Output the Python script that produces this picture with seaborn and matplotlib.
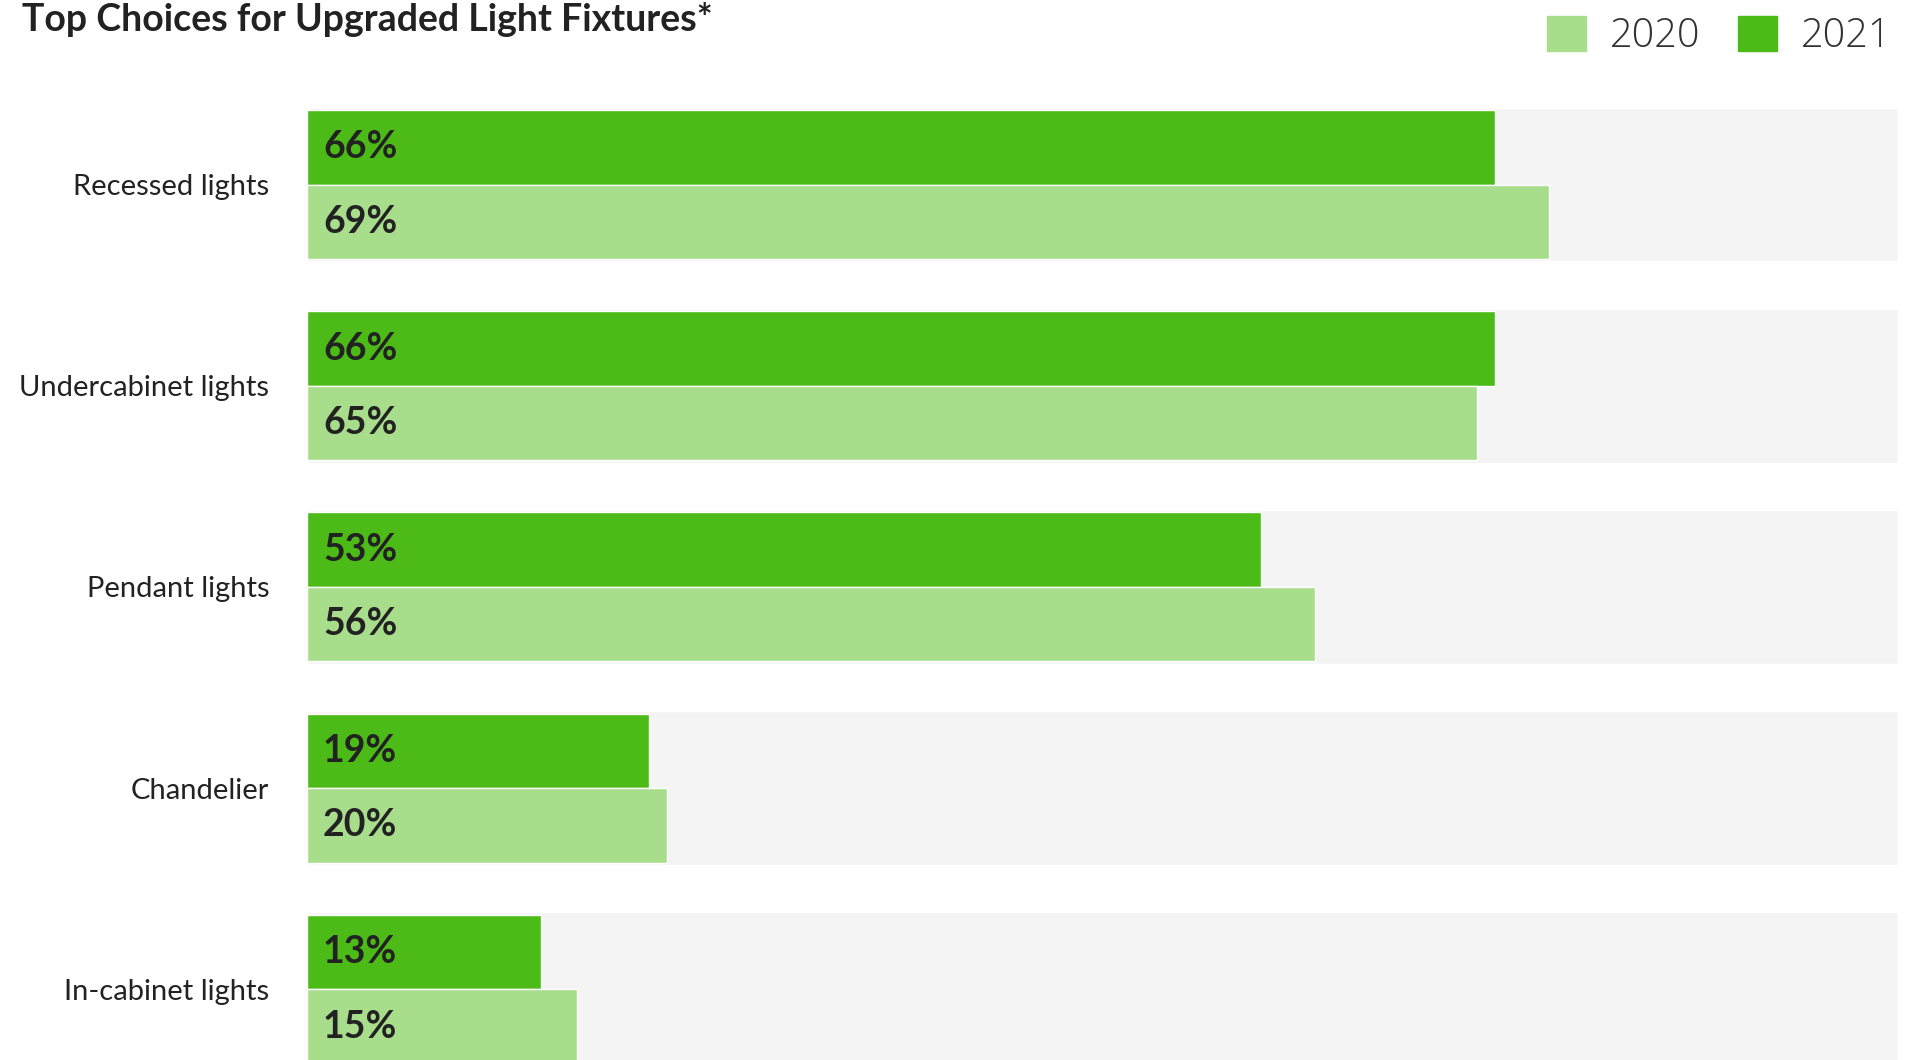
import matplotlib
import matplotlib.pyplot as plt
from matplotlib.patches import Patch
import pandas as pd
import seaborn as sns

matplotlib.use('Agg')

# data
categories = ['Recessed lights', 'Undercabinet lights', 'Pendant lights', 'Chandelier', 'In-cabinet lights']
values_2021 = [66, 66, 53, 19, 13]
values_2020 = [69, 65, 56, 20, 15]
years = ['2021', '2020']

dark_green = '#4dbb17'
light_green = '#a8dd8c'
band_grey = '#f4f4f4'
text_dark = '#222222'
x_max = 88.4

df = pd.DataFrame({
    'category': categories * 2,
    'year': ['2021'] * len(categories) + ['2020'] * len(categories),
    'value': values_2021 + values_2020,
})

sns.set_theme(style='white')
plt.rcParams['font.family'] = ['Lato', 'DejaVu Sans']

fig = plt.figure(figsize=(19.24, 10.6), dpi=100)
ax = fig.add_axes([307 / 1924, 0, (1898 - 307) / 1924, 1])

sns.barplot(data=df, x='value', y='category', hue='year',
            order=categories, hue_order=years,
            palette={'2021': dark_green, '2020': light_green},
            width=0.74, saturation=1, orient='h', legend=False, ax=ax)

# grey background band behind each category
ax.barh(range(len(categories)), [x_max] * len(categories), height=0.765,
        color=band_grey, zorder=0)

# value labels inside the bars, at the start
for container in ax.containers[:2]:
    for bar, v in zip(container, container.datavalues):
        ax.annotate(f'{v:.0f}%', xy=(0, bar.get_y() + bar.get_height() / 2),
                    xytext=(16, 0), textcoords='offset pixels',
                    ha='left', va='center', fontsize=27, fontweight='bold',
                    color=text_dark)

ax.set_xlim(0, x_max)
ax.set_ylim(4.351, -0.917)
ax.set_xlabel('')
ax.set_ylabel('')
ax.set_xticks([])
sns.despine(ax=ax, left=True, bottom=True)
ax.tick_params(axis='y', length=0, pad=27, labelsize=21, labelcolor=text_dark)

fig.text(22 / 1924, 1 - 31 / 1060, 'Top Choices for Upgraded Light Fixtures*',
         fontsize=27, fontweight='bold', color=text_dark, va='baseline')

handles = [Patch(color=light_green, label='2020'), Patch(color=dark_green, label='2021')]
fig.legend(handles=handles, loc='upper right', bbox_to_anchor=(1891 / 1924, 1 - 16 / 1060),
           ncol=2, frameon=False, handlelength=0.98, handleheight=0.98,
           handletextpad=0.6, columnspacing=0.95, borderpad=0, borderaxespad=0,
           prop={'family': ['Open Sans', 'DejaVu Sans'], 'weight': 'light', 'size': 28.5},
           labelcolor='#333333')

fig.savefig('out.png', dpi=100)
